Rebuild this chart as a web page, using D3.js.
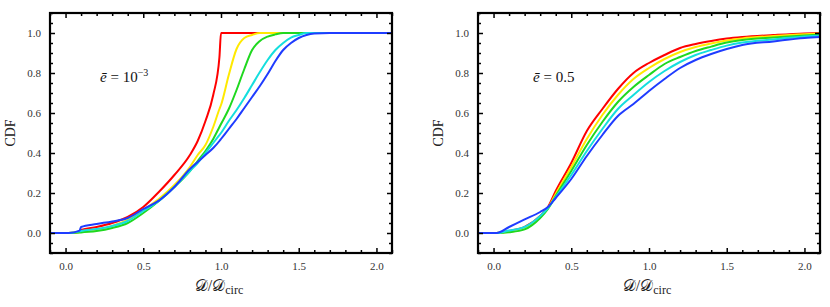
<!DOCTYPE html>
<html>
<head>
<meta charset="utf-8">
<script src="https://cdn.jsdelivr.net/npm/d3@7"></script>
<style>
	body { margin: 0; background: #fff; }
	svg text { font-family: "Liberation Serif", "DejaVu Serif", serif; }
</style>
</head>
<body>
<div id="viz"></div>
<script>
// left panel, e = 10^-3
var leftX      = [-0.1, 0.02, 0.09, 0.1, 0.2, 0.3, 0.4, 0.5, 0.6, 0.7, 0.8, 0.85, 0.9, 0.95, 0.99, 1.0, 1.05, 1.1, 1.15, 1.2, 1.25, 1.3, 1.35, 1.4, 1.45, 1.5, 1.55, 1.6, 1.7, 2.1];
var leftRed    = [0, 0, 0.005, 0.015, 0.03, 0.05, 0.08, 0.13, 0.205, 0.29, 0.39, 0.46, 0.56, 0.69, 0.88, 1, 1, 1, 1, 1, 1, 1, 1, 1, 1, 1, 1, 1, 1, 1];
var leftYellow = [0, 0, 0.004, 0.005, 0.015, 0.035, 0.065, 0.115, 0.17, 0.24, 0.33, 0.39, 0.44, 0.53, 0.62, 0.64, 0.79, 0.92, 0.975, 0.99, 1, 1, 1, 1, 1, 1, 1, 1, 1, 1];
var leftGreen  = [0, 0, 0.002, 0.003, 0.01, 0.025, 0.05, 0.1, 0.16, 0.23, 0.31, 0.36, 0.41, 0.47, 0.53, 0.545, 0.62, 0.715, 0.82, 0.915, 0.96, 0.982, 0.993, 1, 1, 1, 1, 1, 1, 1];
var leftCyan   = [0, 0, 0.008, 0.01, 0.02, 0.035, 0.06, 0.11, 0.16, 0.23, 0.31, 0.35, 0.4, 0.45, 0.49, 0.5, 0.56, 0.615, 0.675, 0.74, 0.805, 0.865, 0.915, 0.95, 0.977, 0.99, 1, 1, 1, 1];
var leftBlue   = [0, 0, 0.012, 0.03, 0.045, 0.058, 0.075, 0.12, 0.162, 0.23, 0.32, 0.355, 0.39, 0.425, 0.46, 0.47, 0.52, 0.57, 0.625, 0.68, 0.735, 0.795, 0.86, 0.915, 0.95, 0.975, 0.99, 0.997, 1, 1];

// right panel, e = 0.5
var rightX      = [-0.1, 0.02, 0.1, 0.2, 0.3, 0.35, 0.4, 0.5, 0.6, 0.7, 0.8, 0.9, 1.0, 1.1, 1.2, 1.3, 1.4, 1.5, 1.6, 1.8, 2.0, 2.1];
var rightRed    = [0, 0, 0.01, 0.03, 0.085, 0.13, 0.21, 0.35, 0.51, 0.62, 0.72, 0.8, 0.85, 0.89, 0.925, 0.945, 0.96, 0.972, 0.98, 0.99, 0.998, 1];
var rightYellow = [0, 0, 0.006, 0.022, 0.08, 0.125, 0.195, 0.33, 0.47, 0.59, 0.69, 0.77, 0.825, 0.87, 0.905, 0.93, 0.948, 0.963, 0.973, 0.985, 0.994, 0.997];
var rightGreen  = [0, 0, 0.004, 0.018, 0.075, 0.12, 0.185, 0.31, 0.44, 0.555, 0.655, 0.73, 0.79, 0.845, 0.88, 0.91, 0.932, 0.952, 0.965, 0.978, 0.988, 0.992];
var rightCyan   = [0, 0, 0.012, 0.03, 0.085, 0.125, 0.18, 0.29, 0.41, 0.52, 0.62, 0.69, 0.755, 0.81, 0.855, 0.89, 0.915, 0.937, 0.952, 0.968, 0.982, 0.987];
var rightBlue   = [0, 0, 0.03, 0.068, 0.105, 0.13, 0.175, 0.27, 0.385, 0.49, 0.585, 0.645, 0.71, 0.77, 0.825, 0.865, 0.895, 0.92, 0.94, 0.958, 0.975, 0.98];

var colors = ['#ff0000', '#ffe900', '#1fd81f', '#14dede', '#1f3cff'];

var xTicks = [0, 0.5, 1, 1.5, 2];
var yTicks = [0, 0.2, 0.4, 0.6, 0.8, 1];

var width = 830, height = 307;

var svg = d3.select('#viz')
	.append('svg')
	.attr('width', width)
	.attr('height', height);

buildPanel(50, leftX, [leftRed, leftYellow, leftGreen, leftCyan, leftBlue], 'left');
buildPanel(478, rightX, [rightRed, rightYellow, rightGreen, rightCyan, rightBlue], 'right');

function buildPanel(left, xs, series, which){
	var w = 342, top = 13, h = 240;

	var x = d3.scaleLinear().domain([-0.1, 2.1]).range([0, w]);
	var y = d3.scaleLinear().domain([-0.1, 1.1]).range([h, 0]);

	var g = svg.append('g')
		.attr('transform', 'translate(' + left + ',' + top + ')');

	g.append('defs').append('clipPath')
		.attr('id', 'clip-' + which)
		.append('rect')
			.attr('width', w)
			.attr('height', h);

	// curves, red first so blue ends on top
	var line = d3.line()
		.curve(d3.curveMonotoneX)
		.x(function(d){ return x(d[0]); })
		.y(function(d){ return y(d[1]); });

	g.append('g')
		.attr('clip-path', 'url(#clip-' + which + ')')
		.selectAll('.cdf-line')
		.data(series)
		.enter()
		.append('path')
			.attr('class', 'cdf-line')
			.attr('d', function(vals){ return line(xs.map(function(v, i){ return [v, vals[i]]; })); })
			.style('fill', 'none')
			.style('stroke', function(d, i){ return colors[i]; })
			.style('stroke-width', 2)
			.style('stroke-linejoin', 'round');

	// ticks inside on all four sides
	var xMinor = d3.range(-0.1, 2.11, 0.1).filter(function(v){ return Math.abs(v*2 - Math.round(v*2)) > 1e-6; });
	var yMinor = d3.range(-0.1, 1.11, 0.05).filter(function(v){ return Math.abs(v*5 - Math.round(v*5)) > 1e-6; });

	var bottom = d3.axisBottom(x).tickValues(xTicks).tickSize(-5).tickFormat(d3.format('.1f')).tickPadding(9);
	var bottomMinor = d3.axisBottom(x).tickValues(xMinor).tickSize(-3).tickFormat('');
	var leftAx = d3.axisLeft(y).tickValues(yTicks).tickSize(-5).tickFormat(d3.format('.1f')).tickPadding(9);
	var leftMinor = d3.axisLeft(y).tickValues(yMinor).tickSize(-3).tickFormat('');
	var topAx = d3.axisTop(x).tickValues(xTicks).tickSize(-5).tickFormat('');
	var topMinor = d3.axisTop(x).tickValues(xMinor).tickSize(-3).tickFormat('');
	var rightAx = d3.axisRight(y).tickValues(yTicks).tickSize(-5).tickFormat('');
	var rightMinor = d3.axisRight(y).tickValues(yMinor).tickSize(-3).tickFormat('');

	[[bottom, 0, h], [bottomMinor, 0, h], [leftAx, 0, 0], [leftMinor, 0, 0],
	 [topAx, 0, 0], [topMinor, 0, 0], [rightAx, w, 0], [rightMinor, w, 0]].forEach(function(a){
		var ag = g.append('g')
			.attr('transform', 'translate(' + a[1] + ',' + a[2] + ')')
			.call(a[0]);
		ag.select('.domain').remove();
		ag.selectAll('line').style('stroke', '#000').style('stroke-width', 1.5);
		ag.selectAll('text')
			.style('font-family', '"Liberation Serif", serif')
			.style('font-size', '11px')
			.style('fill', '#333');
	});

	// frame
	g.append('rect')
		.attr('width', w)
		.attr('height', h)
		.style('fill', 'none')
		.style('stroke', '#000')
		.style('stroke-width', 2.2);

	// axis titles
	g.append('text')
		.attr('transform', 'translate(-35,' + (h/2) + ') rotate(-90)')
		.attr('text-anchor', 'middle')
		.style('font-size', '14px')
		.style('fill', '#222')
		.text('CDF');

	var xt = g.append('text')
		.attr('x', x(1) - 2)
		.attr('y', h + 38)
		.attr('text-anchor', 'middle')
		.style('font-size', '16px')
		.style('fill', '#222');
	xt.append('tspan').text('\uD835\uDC9F/\uD835\uDC9F');
	xt.append('tspan').attr('dy', 3).style('font-size', '12px').text('circ');

	// annotation
	var note = g.append('text')
		.attr('x', which === 'left' ? 50 : 55)
		.attr('y', 69)
		.style('font-size', '15px')
		.style('fill', '#111');
	note.append('tspan').style('font-style', 'italic').text('ē');
	if (which === 'left') {
		note.append('tspan').text(' = 10');
		note.append('tspan').attr('dy', -6).style('font-size', '10px').text('−3');
	} else {
		note.append('tspan').text(' = 0.5');
	}
}
</script>
</body>
</html>
